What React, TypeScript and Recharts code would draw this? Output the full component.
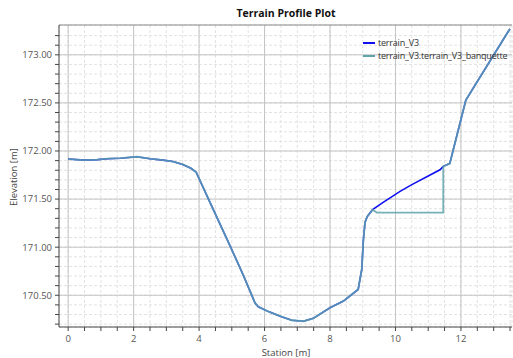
import React from "react";
import { LineChart, Line, XAxis, YAxis, CartesianGrid, ReferenceLine } from "recharts";

const commonStations = [0, 0.5, 0.9, 1.2, 1.6, 2.1, 2.5, 2.9, 3.2, 3.5, 3.75, 3.91, 4.34, 4.95, 5.35, 5.71, 5.81, 6.12, 6.5, 6.83, 7.19, 7.49, 8.0, 8.41, 8.86, 8.97, 9.02, 9.07, 9.14, 9.3];
const commonElev = [171.916, 171.905, 171.91, 171.92, 171.925, 171.94, 171.92, 171.905, 171.89, 171.86, 171.82, 171.78, 171.46, 171.01, 170.71, 170.42, 170.38, 170.33, 170.28, 170.24, 170.23, 170.26, 170.37, 170.44, 170.56, 170.77, 171.08, 171.26, 171.32, 171.39];

const v3MidStations = [9.6, 10.14, 10.5, 11.0, 11.36, 11.46];
const v3MidElev = [171.46, 171.58, 171.65, 171.74, 171.805, 171.84];

const banqMidStations = [9.43, 11.46, 11.46];
const banqMidElev = [171.36, 171.36, 171.84];

const tailStations = [11.66, 12.15, 13.44, 13.5];
const tailElev = [171.87, 172.53, 173.24, 173.27];

const xTicks = Array.from({ length: 28 }, (_, i) => i * 0.5);
const yTicks = Array.from({ length: 31 }, (_, i) => Math.round((170.2 + i * 0.1) * 10) / 10);
const xMajor = [0, 2, 4, 6, 8, 10, 12];
const yMajor = [170.5, 171, 171.5, 172, 172.5, 173];

const seriesNames = ["terrain_V3", "terrain_V3.terrain_V3_banquette"];
const seriesColors = ["#1010f0", "#5fa3ab"];

const build = (s: number[], e: number[]) => s.map((x, i) => ({ x, y: e[i] }));
const v3Data = build([...commonStations, ...v3MidStations, ...tailStations], [...commonElev, ...v3MidElev, ...tailElev]);
const banqData = build([...commonStations, ...banqMidStations, ...tailStations], [...commonElev, ...banqMidElev, ...tailElev]);

const FONT = "'Open Sans', 'Noto Sans', sans-serif";

export default function App() {
  return (
    <div style={{ position: "absolute", left: 0, top: 0, width: 513, height: 358, background: "#fff", overflow: "hidden" }}>
      <div style={{ position: "absolute", top: 6, left: 59, width: 454, textAlign: "center", fontFamily: FONT, fontSize: 10.5, fontWeight: 700, color: "#111" }}>
        Terrain Profile Plot
      </div>
      <LineChart width={513} height={358} margin={{ top: 25, right: 1, left: 0, bottom: 0 }}>
        <CartesianGrid stroke="#e2e2e2" strokeDasharray="3 2" />
        <XAxis
          type="number"
          dataKey="x"
          domain={[-0.28, 13.56]}
          ticks={xTicks}
          interval={0}
          allowDataOverflow
          tickFormatter={(v: number) => (Number.isInteger(v) && v % 2 === 0 ? String(v) : "")}
          tick={{ fontSize: 9.5, fill: "#555", fontFamily: FONT }}
          tickSize={4}
          tickMargin={4}
          stroke="#444"
          height={31}
        />
        <YAxis
          type="number"
          domain={[170.17, 173.31]}
          ticks={yTicks}
          interval={0}
          allowDataOverflow
          tickFormatter={(v: number) => (Math.abs(v * 2 - Math.round(v * 2)) < 1e-6 ? v.toFixed(2) : "")}
          tick={{ fontSize: 9.5, fill: "#555", fontFamily: FONT }}
          tickSize={4}
          tickMargin={3}
          stroke="#444"
          width={59}
          label={{ value: "Elevation [m]", angle: -90, position: "insideLeft", offset: 14, dy: 30, fontSize: 9.5, fill: "#444", fontFamily: FONT }}
        />
        {xMajor.map((v) => (
          <ReferenceLine key={"vx" + v} x={v} stroke="#c4c4c4" />
        ))}
        {yMajor.map((v) => (
          <ReferenceLine key={"hy" + v} y={v} stroke="#c4c4c4" />
        ))}
        <ReferenceLine y={173.31} stroke="#888" />
        <Line data={v3Data} dataKey="y" name={seriesNames[0]} stroke={seriesColors[0]} strokeWidth={1.6} dot={false} isAnimationActive={false} />
        <Line data={banqData} dataKey="y" name={seriesNames[1]} stroke={seriesColors[1]} strokeOpacity={0.85} strokeWidth={1.8} dot={false} isAnimationActive={false} />
      </LineChart>
      <div style={{ position: "absolute", top: 347, left: 59, width: 454, textAlign: "center", fontFamily: FONT, fontSize: 9.5, color: "#444", lineHeight: "12px" }}>
        Station [m]
      </div>
      <div style={{ position: "absolute", top: 36, left: 363, fontFamily: FONT, fontSize: 9, letterSpacing: -0.2, color: "#333", lineHeight: "13px", whiteSpace: "nowrap" }}>
        {seriesNames.map((n, i) => (
          <div key={n} style={{ display: "flex", alignItems: "center" }}>
            <span style={{ display: "inline-block", width: 12, height: 2, background: seriesColors[i], marginRight: 3 }} />
            <span>{n}</span>
          </div>
        ))}
      </div>
    </div>
  );
}
